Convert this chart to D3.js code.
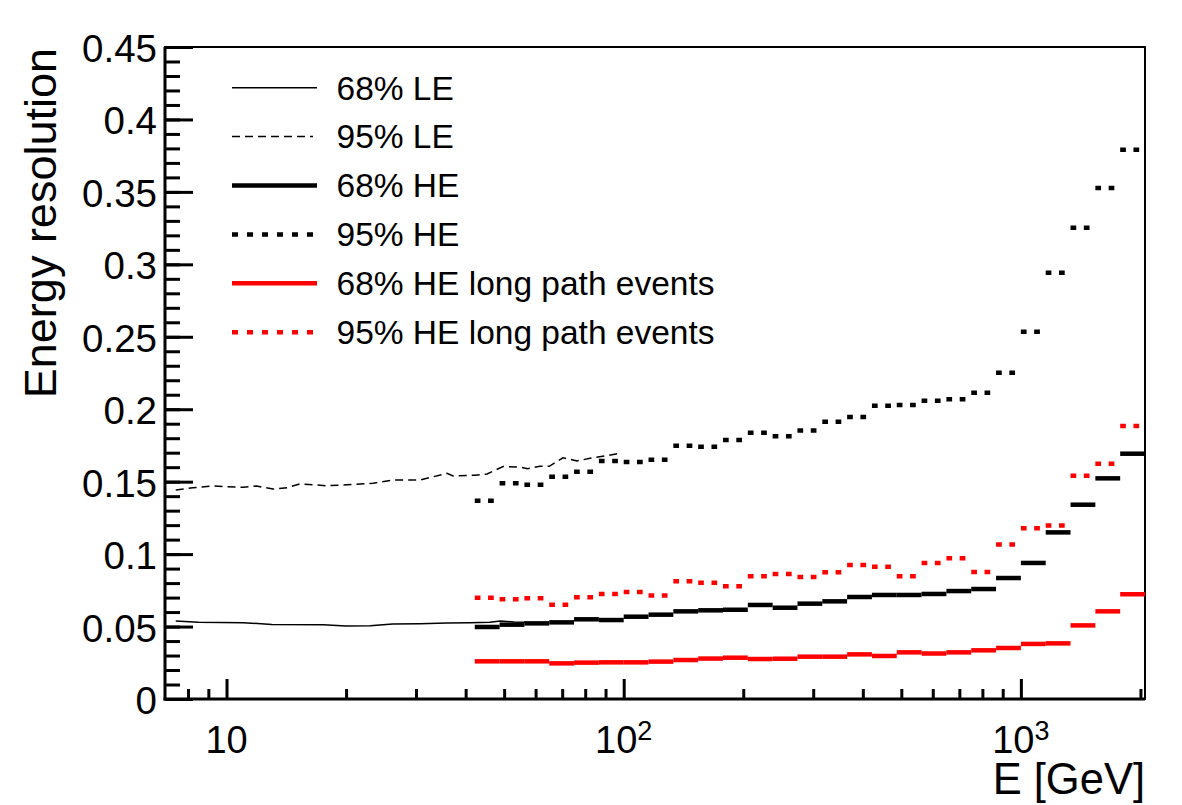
<!DOCTYPE html>
<html><head><meta charset="utf-8">
<script src="https://cdn.jsdelivr.net/npm/d3@7"></script>
<style>body{margin:0;background:#fff}svg{display:block}</style>
</head><body>
<svg id="c" width="1182" height="805"></svg>
<script>
// ---- data ----
const binEdges = [42.17,48.70,56.23,64.94,74.99,86.60,100,115.48,133.35,153.99,177.83,205.35,237.14,273.84,316.23,365.17,421.70,486.97,562.34,649.38,749.89,865.96,1000,1154.78,1333.52,1539.93,1778.28,2053.53];
const he68 = [0.0497,0.0513,0.0522,0.0529,0.0550,0.0545,0.0568,0.0582,0.0605,0.0612,0.0616,0.0649,0.0630,0.0658,0.0674,0.0704,0.0718,0.0718,0.0725,0.0745,0.0759,0.0835,0.0939,0.1150,0.1341,0.1523,0.1693];
const he95 = [0.1369,0.1489,0.1479,0.1534,0.1569,0.1643,0.1636,0.1652,0.1748,0.1741,0.1787,0.1838,0.1813,0.1854,0.1914,0.1946,0.2024,0.2029,0.2059,0.2068,0.2114,0.2252,0.2535,0.2942,0.3253,0.3527,0.3791];
const lp68 = [0.0260,0.0260,0.0260,0.0246,0.0251,0.0253,0.0253,0.0258,0.0269,0.0279,0.0285,0.0276,0.0278,0.0292,0.0292,0.0308,0.0297,0.0322,0.0314,0.0322,0.0336,0.0352,0.0380,0.0384,0.0508,0.0605,0.0723];
const lp95 = [0.0699,0.0688,0.0695,0.0651,0.0702,0.0725,0.0738,0.0715,0.0812,0.0803,0.0778,0.0847,0.0863,0.0842,0.0874,0.0925,0.0913,0.0847,0.0939,0.0971,0.0876,0.1067,0.1178,0.1198,0.1541,0.1624,0.1884];
const le95E = [7.45,8.23,9.24,11.0,11.9,13.1,14.2,15.3,17.9,20.1,23.4,26.2,30.7,35.9,37.2,42.2,45.3,49.7,54.8,57.3,61.5,65.0,70.3,76.3,82.3,90.8,97.9];
const le95  = [0.1442,0.1458,0.1470,0.1461,0.1470,0.1449,0.1458,0.1484,0.1472,0.1479,0.1489,0.1511,0.1511,0.1558,0.1539,0.1545,0.1553,0.1605,0.1600,0.1590,0.1606,0.1606,0.1665,0.1643,0.1661,0.1680,0.1696];
const le68E = [7.45,8.5,11.0,13.0,17.5,20.0,23.0,26.2,30.7,35.9,41.0,46.0,49.0,53.0,57.0];
const le68  = [0.0538,0.0530,0.0527,0.0515,0.0513,0.0504,0.0506,0.0517,0.0520,0.0524,0.0527,0.0530,0.0538,0.0532,0.0530];
const yTicks = [0,0.05,0.1,0.15,0.2,0.25,0.3,0.35,0.4,0.45];
const yMinor = d3.range(0,46).map(i=>i/100);
const xMajor = [10,100,1000];
const xMajorBase = ["10","10","10"];
const xMajorExp = ["","2","3"];
const xMinor = [8,9,20,30,40,50,60,70,80,90,200,300,400,500,600,700,800,900,2000];
const legendLabels = ["68% LE","95% LE","68% HE","95% HE","68% HE long path events","95% HE long path events"];

// ---- layout ----
const L=165, R=1145, T=47, B=699;
const FONT = "'Liberation Sans', Arial, Helvetica, sans-serif";
const svg = d3.select("#c");
const x = d3.scaleLog().domain([7, 2053.53]).range([L, R]);
const y = d3.scaleLinear().domain([0, 0.45]).range([B, T]);

// frame
svg.append("rect").attr("x",L).attr("y",T).attr("width",R-L).attr("height",B-T)
  .attr("fill","none").attr("stroke","#000").attr("stroke-width",2);

// y axis
const gy = svg.append("g").attr("transform",`translate(${L},0)`);
gy.call(d3.axisLeft(y).tickValues(yMinor).tickSize(-15).tickFormat(""));
gy.call(g=>{g.selectAll(".tick line").attr("stroke-width",3); g.select(".domain").remove();});
const gy2 = svg.append("g").attr("transform",`translate(${L},0)`);
gy2.call(d3.axisLeft(y).tickValues(yTicks).tickSize(-28).tickPadding(8).tickFormat(d=>String(+d.toFixed(2))));
gy2.call(g=>{
  g.select(".domain").remove();
  g.selectAll(".tick line").attr("stroke-width",3);
  g.selectAll(".tick text").attr("font-family",FONT).attr("font-size",38.5).attr("fill","#000")
   .attr("dy",null).attr("y",14.5);
});

// x axis
const gx = svg.append("g").attr("transform",`translate(0,${B})`);
gx.call(d3.axisBottom(x).tickValues(xMinor).tickSize(-10).tickFormat(""));
gx.call(g=>{g.selectAll(".tick line").attr("stroke-width",3); g.select(".domain").remove();});
const gx2 = svg.append("g").attr("transform",`translate(0,${B})`);
gx2.call(d3.axisBottom(x).tickValues(xMajor).tickSize(-20).tickFormat(""));
gx2.call(g=>{g.selectAll(".tick line").attr("stroke-width",3); g.select(".domain").remove();});
xMajor.forEach((v,i)=>{
  const t = svg.append("text").attr("x",x(v)).attr("y",753).attr("text-anchor","middle")
    .attr("font-family",FONT).attr("font-size",38).attr("fill","#000");
  t.append("tspan").text(xMajorBase[i]);
  if (xMajorExp[i]) t.append("tspan").attr("font-size",27).attr("dy",-13).text(xMajorExp[i]);
});
// axis lines (thicker)
svg.append("line").attr("x1",L).attr("x2",L).attr("y1",T).attr("y2",B+1.5).attr("stroke","#000").attr("stroke-width",3);
svg.append("line").attr("x1",L-1.5).attr("x2",R).attr("y1",B).attr("y2",B).attr("stroke","#000").attr("stroke-width",3);

// titles
svg.append("text").attr("x",R).attr("y",794).attr("text-anchor","end")
  .attr("font-family",FONT).attr("font-size",43.5).attr("fill","#000").text("E [GeV]");
svg.append("text").attr("transform",`translate(56,${T+1}) rotate(-90)`).attr("text-anchor","end")
  .attr("font-family",FONT).attr("font-size",45).attr("fill","#000").text("Energy resolution");

// ---- series ----
const plot = svg.append("g");
const styles = [
  {data:lp68, color:"#ff0000", dash:null},
  {data:lp95, color:"#ff0000", dash:"5.7,7.6"},
  {data:he68, color:"#000", dash:null},
  {data:he95, color:"#000", dash:"5.7,7.6"},
];
styles.forEach(s=>{
  plot.append("g").selectAll("line").data(s.data).join("line")
    .attr("x1",(d,i)=>x(binEdges[i])).attr("x2",(d,i)=>x(binEdges[i+1]))
    .attr("y1",d=>y(d)).attr("y2",d=>y(d))
    .attr("stroke",s.color).attr("stroke-width",4.5)
    .attr("stroke-dasharray",s.dash);
});
const line = d3.line().x(d=>x(d[0])).y(d=>y(d[1]));
plot.append("path").datum(le68E.map((e,i)=>[e,le68[i]])).attr("d",line)
  .attr("fill","none").attr("stroke","#000").attr("stroke-width",1.5);
plot.append("path").datum(le95E.map((e,i)=>[e,le95[i]])).attr("d",line)
  .attr("fill","none").attr("stroke","#000").attr("stroke-width",1.5).attr("stroke-dasharray","8,5");

// ---- legend ----
const legStyles = [
  {color:"#000", w:1.5, dash:null, x2:317},
  {color:"#000", w:1.5, dash:"8,5", x2:313},
  {color:"#000", w:4.5, dash:null, x2:317},
  {color:"#000", w:4.5, dash:"6,9", x2:313},
  {color:"#ff0000", w:4.5, dash:null, x2:317},
  {color:"#ff0000", w:4.5, dash:"6,9", x2:313},
];
const legY0 = 87.7, legDy = 48.9;
legendLabels.forEach((lab,i)=>{
  const yy = legY0 + i*legDy;
  const st = legStyles[i];
  svg.append("line").attr("x1",232).attr("x2",st.x2).attr("y1",yy).attr("y2",yy)
    .attr("stroke",st.color).attr("stroke-width",st.w).attr("stroke-dasharray",st.dash);
  svg.append("text").attr("x",336.5).attr("y",yy+11.8).attr("font-family",FONT)
    .attr("font-size",33.5).attr("fill","#000").text(lab);
});
</script>
</body></html>
